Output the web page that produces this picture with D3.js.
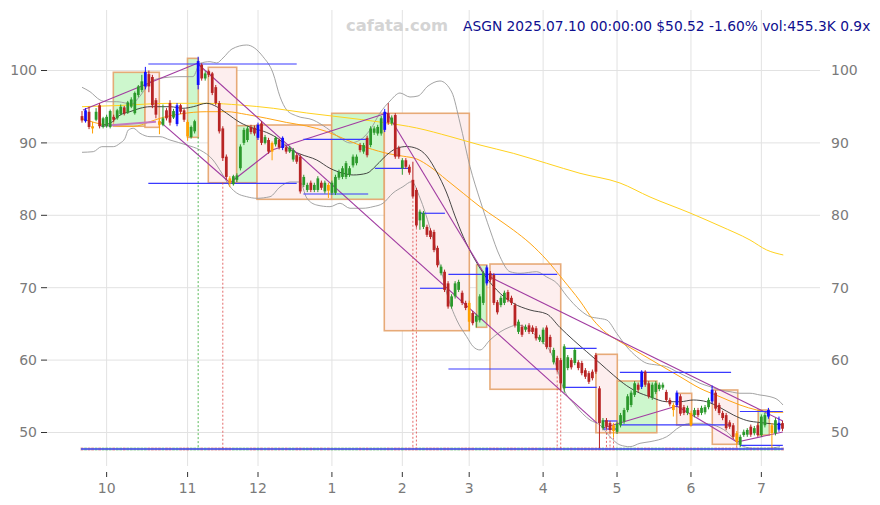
<!DOCTYPE html>
<html><head><meta charset="utf-8">
<script src="https://cdn.jsdelivr.net/npm/d3@7"></script>
<style>body{margin:0;background:#fff}svg{display:block}</style>
</head><body>
<svg id="c" width="880" height="505"></svg>
<script>
// ---------- DATA ----------
const ticker = "ASGN";
const lastStamp = "2025.07.10 00:00:00";
const lastPrice = 50.52;
const changePct = -1.60;
const lastVolume = "455.3K";
const volumeRatio = "0.9x";
const watermark = "cafata.com";

const firstDay = "2024-09-20", lastDay = "2025-07-10";
const holidays = ["2024-11-28","2024-12-25","2025-01-01","2025-01-09","2025-01-20","2025-02-17","2025-04-18","2025-05-26","2025-06-19","2025-07-04"];
const yTicks = [50,60,70,80,90,100];

const openP = [
93.7,93.0,94.3,92.3,93.2,95.2,92.2,92.3,92.2,93.6,
93.4,94.0,94.9,94.2,95.0,94.1,96.6,97.3,97.8,99.5,
99.1,95.9,93.0,92.5,94.5,95.5,93.5,92.6,95.2,94.5,
92.9,90.8,91.6,98.0,100.8,98.9,99.9,99.6,97.7,95.5,
92.0,88.1,85.1,84.3,84.9,86.5,90.0,90.4,92.2,92.1,
90.7,92.7,90.0,90.4,90.0,89.8,90.4,89.3,89.4,88.8,
87.7,88.3,88.1,84.2,83.5,84.5,83.5,83.5,84.5,83.3,
84.2,83.1,83.1,85.2,85.3,85.3,85.6,86.9,87.2,89.7,
88.8,90.7,89.7,91.4,91.3,91.3,91.8,94.1,92.7,93.85,
89.3,86.5,87.6,86.7,84.9,83.5,79.3,78.4,78.4,77.9,
77.7,75.5,72.0,72.2,70.6,67.4,68.8,69.7,69.3,67.9,
67.9,66.5,65.3,65.5,67.9,70.6,72.0,71.75,68.0,67.6,
67.9,69.4,68.6,67.6,63.9,64.6,64.2,64.8,64.5,64.4,
62.8,62.5,64.5,63.2,59.7,60.3,60.0,56.1,58.9,60.0,
59.6,59.7,59.6,58.6,58.2,58.4,60.7,56.1,50.6,51.7,
51.3,51.0,50.1,51.0,51.5,53.1,53.8,55.2,56.6,56.3,
58.4,56.8,54.8,55.6,56.0,56.2,55.6,54.5,53.8,53.8,
55.0,53.5,52.7,52.7,52.4,53.1,52.7,52.8,53.5,54.3,
55.5,53.8,52.7,52.4,51.4,51.0,49.9,48.3,49.65,49.7,
50.8,49.9,51.0,49.65,51.0,52.2,51.0,49.9,50.4,51.3];
const closeP = [
93.1,94.5,92.2,92.0,94.3,92.3,93.4,93.6,94.4,93.2,
94.5,95.0,94.1,95.6,96.0,96.9,97.8,98.5,99.8,97.8,
95.2,93.9,92.5,93.4,93.4,92.8,94.4,95.2,94.3,93.2,
90.9,92.2,93.0,101.3,98.9,99.6,99.4,96.9,95.5,91.6,
87.9,85.3,84.4,85.4,85.5,89.5,91.8,92.0,91.5,91.3,
92.5,90.0,90.8,88.8,88.8,90.7,89.4,90.7,88.8,89.3,
89.0,87.4,83.3,85.3,84.2,83.5,84.2,85.1,83.8,84.5,
83.4,84.5,85.3,86.0,86.5,87.2,86.5,88.1,88.1,89.0,
89.7,88.3,92.0,92.0,92.2,93.4,94.3,92.8,93.5,88.1,
88.1,87.6,86.7,85.9,82.6,78.6,80.5,80.3,77.3,77.0,
75.2,73.1,72.9,69.7,67.4,68.8,70.6,70.8,67.9,67.2,
65.3,65.1,66.1,68.8,72.0,72.8,71.1,67.9,66.6,68.6,
69.3,68.3,67.9,64.8,65.3,63.5,64.6,63.9,63.9,63.0,
63.2,64.2,61.8,61.8,61.4,58.6,56.8,61.9,60.4,59.0,
61.4,58.9,58.2,57.7,57.0,57.5,58.4,51.3,51.7,50.8,
50.35,50.2,51.2,52.4,53.1,55.0,55.5,56.8,55.9,58.4,
56.6,55.0,56.6,56.8,56.6,56.6,54.5,53.9,53.1,55.5,
52.6,52.7,53.4,51.0,53.1,52.4,53.4,53.5,54.5,55.9,
53.3,52.7,52.0,50.6,50.8,49.4,48.7,49.4,50.1,50.35,
49.7,50.6,49.65,52.2,52.4,53.1,49.9,51.7,51.34,50.52];
const highP = [
94.4,94.8,95.0,92.9,94.8,95.5,93.6,93.9,94.6,93.9,
94.7,95.3,95.1,95.8,96.3,97.1,98.0,99.4,100.5,100.0,
99.4,96.2,93.3,95.3,94.8,95.9,94.7,95.5,95.4,94.7,
93.2,92.4,93.2,101.9,101.0,99.9,100.1,99.8,98.0,95.8,
92.3,88.4,85.4,85.6,85.8,89.8,92.1,92.3,92.5,92.4,
92.8,93.0,91.1,90.7,90.2,90.9,90.6,90.9,89.6,89.6,
89.3,88.6,88.4,85.6,84.5,84.8,84.5,85.4,84.8,84.8,
84.5,84.8,85.6,86.3,86.8,87.5,86.8,88.4,88.4,90.0,
90.0,91.0,92.3,92.3,92.5,93.7,94.7,95.5,93.8,94.1,
89.6,87.9,87.9,87.0,87.4,83.8,80.8,80.6,78.7,78.2,
78.0,75.8,73.2,72.5,70.9,69.1,70.9,71.1,69.6,68.2,
68.2,66.8,66.4,69.1,72.3,73.1,72.3,72.0,68.3,68.9,
69.6,69.7,68.9,67.9,65.6,64.9,64.9,65.1,64.8,64.7,
63.5,64.5,64.8,63.5,61.7,60.6,60.3,62.2,60.7,60.3,
61.7,60.0,59.9,58.9,58.5,58.7,61.0,56.4,52.0,52.0,
51.6,51.3,51.5,52.7,53.4,55.3,55.8,57.1,56.9,58.6,
58.6,57.1,56.9,57.1,56.9,56.9,55.9,54.8,54.1,55.8,
55.3,53.8,53.7,53.0,53.4,53.4,53.7,53.8,54.8,56.5,
55.8,54.1,53.0,52.7,51.7,51.3,50.2,49.7,50.4,50.6,
51.1,50.9,51.3,52.5,52.7,53.4,51.3,52.0,52.2,51.6];
const lowP = [
92.8,92.8,91.9,91.3,93.0,92.0,92.0,92.1,92.0,92.9,
93.2,93.8,93.8,94.0,94.8,93.9,96.3,97.0,97.4,97.0,
94.8,93.4,91.2,92.3,93.1,92.4,93.3,92.3,94.0,92.9,
90.3,90.6,91.3,97.4,98.6,98.6,99.1,96.6,95.2,91.3,
87.5,84.9,83.9,84.1,84.6,86.2,89.7,90.1,91.2,91.0,
90.4,89.7,89.8,88.5,87.6,89.5,89.1,89.0,88.5,88.6,
87.4,87.1,83.0,83.9,83.2,83.2,83.2,83.2,83.5,83.0,
82.4,82.8,82.8,84.9,85.0,85.0,85.3,86.6,86.9,88.7,
88.5,88.0,89.4,91.1,91.0,91.0,91.5,92.5,92.4,87.8,
87.8,85.6,86.4,85.6,82.3,78.3,78.0,78.1,77.0,76.7,
74.9,72.8,71.7,69.4,67.1,67.1,68.5,69.4,67.6,66.9,
64.0,64.8,64.5,65.2,67.6,70.3,70.8,67.6,66.3,67.3,
67.6,68.0,67.6,64.5,63.6,63.2,63.9,63.6,63.6,62.7,
62.5,62.2,61.5,61.0,59.4,58.3,55.8,55.5,58.6,58.7,
59.3,58.6,57.9,57.4,56.7,57.2,58.1,47.7,50.3,50.5,
50.0,49.3,49.8,50.7,51.2,52.8,53.5,54.9,55.6,56.0,
56.3,54.7,54.5,55.3,55.7,55.9,54.2,53.6,52.2,53.5,
52.3,52.4,52.4,50.8,52.1,52.1,52.4,52.5,53.2,54.0,
53.0,52.4,51.7,50.3,50.5,49.1,48.2,48.0,49.4,49.4,
49.4,49.6,49.4,49.4,50.7,51.9,47.9,49.6,50.1,50.2];

const blueIdx = [1,18,27,33,50,57,86,115,159,169,179,195,198];
const orangeIdx = [3,22,30,42,54,70,110,151,168,173,186,196];

// moving averages & bands: [trading-day index, price]
const maShort = [[5.6,92.47],[7.95,92.71],[10.8,93.85],[13.64,94.31],[16.48,94.78],[19.32,95.0],[22.16,95.0],[25,95.0],[28.7,94.78],[31.62,95.0],[35.43,95.47],[38.27,95.0],[41.1,94.09],[44.89,92.82],[48.66,92.02],[52.47,91.44],[56.25,90.4],[59.09,89.12],[61.93,88.47],[66.68,87.64],[70.45,86.49],[74.23,85.8],[77.07,85.57],[80.88,85.8],[83.72,86.95],[86.56,88.33],[89.4,89.25],[92.24,89.5],[95.09,89.23],[97.93,88.19],[100.77,85.98],[103.61,83.08],[105.97,79.9],[108.32,77.04],[111.16,74.28],[114,71.99],[117.81,69.68],[122.53,67.85],[127.27,66.92],[132.02,66.37],[135.8,64.5],[139.57,62.78],[143.38,61.16],[147.16,59.56],[150.94,57.94],[153.78,56.8],[157.59,55.64],[161.36,54.94],[166.11,54.25],[169.89,54.25],[173.67,54.49],[177.47,54.25],[181.25,53.45],[185.03,52.42],[188.84,51.66],[192.61,51.38],[196.39,51.17],[199.23,51.04]];
const maMid = [[0.28,93.3],[7.02,92.47],[14.57,92.27],[19.32,92.93],[22.16,93.4],[27.84,93.99],[35.43,94.31],[41.11,94.31],[46.79,93.92],[52.47,93.4],[58.15,92.82],[63.84,92.33],[69.52,91.57],[75.2,90.4],[80.88,89.36],[87.5,88.47],[91.28,88.16],[95.09,87.78],[98.86,86.71],[103.61,84.88],[108.32,83.04],[113.07,81.19],[117.81,79.59],[122.53,77.97],[127.27,76.13],[132.02,73.83],[136.73,71.06],[141.48,68.16],[145.26,65.54],[149.06,63.7],[152.84,62.54],[158.52,60.94],[164.2,59.32],[169.89,57.71],[175.57,56.1],[181.25,54.94],[186.93,53.8],[191.68,53.11],[196.39,52.79],[199.23,52.79]];
const maLong = [[0,95.0],[10.8,95.17],[25,95.47],[35.43,95.47],[44.89,95.23],[54.35,94.78],[63.84,94.13],[73.3,93.58],[85.6,92.82],[95.09,92.06],[104.55,90.88],[113.07,89.71],[122.53,88.56],[132.02,87.18],[141.48,85.8],[152.84,84.46],[161.36,82.53],[172.73,80.32],[181.25,78.52],[189.77,76.59],[194.52,75.21],[199.23,74.52]];
const bandUpper = [[0,97.68],[2.27,97.07],[5.11,95.93],[7.02,95.69],[9.86,95.69],[12.7,95.47],[14.12,95.33],[15.54,95.93],[17.41,97.07],[19.32,98.41],[22.16,98.92],[27.84,99.15],[31.53,99.15],[33.52,100.99],[36.36,101.22],[38.27,101.04],[40.06,101.73],[42.61,102.97],[46.79,103.52],[51.42,101.91],[54.26,99.66],[56.25,96.38],[58.15,94.55],[61,93.72],[65.63,93.17],[69.52,92.06],[73.3,90.68],[76.14,89.99],[78.98,90.4],[81.82,91.78],[84.66,94.13],[87.5,95.79],[90.34,96.89],[93.18,96.34],[95.45,96.48],[98.3,97.86],[101.7,98.55],[105.03,97.03],[107.39,92.75],[110.23,86.72],[113.07,82.12],[115.91,77.97],[118.75,74.28],[121.59,72.21],[124.43,71.99],[129.17,72.21],[132.02,71.48],[134.86,70.65],[137.7,68.86],[141.48,66.92],[144.32,66.0],[146.68,65.78],[149.06,65.54],[151.9,63.7],[154.74,61.85],[157.59,60.47],[160.43,59.56],[163.27,59.33],[166.11,59.09],[168.95,58.4],[172.73,57.49],[175.57,56.8],[178.41,56.33],[181.25,55.87],[184.09,55.64],[186.93,55.42],[189.77,55.42],[192.61,55.18],[195.45,54.95],[197.73,54.49],[199.15,53.8]];
const bandLower = [[0,88.7],[3.21,88.79],[5.6,89.48],[8.89,89.48],[10.8,89.95],[12.22,90.64],[13.15,91.78],[14.57,92.02],[16.48,91.33],[19.32,90.86],[22.16,90.86],[25,90.4],[29.74,89.71],[33.52,89.02],[37.22,87.64],[39.69,85.84],[42.05,83.95],[43.95,83.08],[46.79,82.57],[49.63,82.35],[53.41,82.57],[56.25,83.91],[59.09,84.6],[61.93,84.6],[63.84,82.39],[66.68,81.42],[70.45,81.19],[73.3,81.66],[76.14,80.97],[79.83,80.97],[82.67,81.19],[85.51,81.66],[88.35,83.08],[91.19,83.95],[93.66,84.64],[96.02,82.39],[98.86,78.25],[101.7,73.14],[103.61,69.27],[106.45,65.54],[109.29,63.24],[111.16,61.85],[113.07,61.4],[115.91,62.78],[118.75,63.88],[121.59,64.58],[123.58,64.85],[126.42,64.44],[130.11,62.78],[132.95,61.26],[134.66,59.33],[136.73,56.15],[140.06,53.8],[144.32,51.73],[147.16,51.04],[150,49.42],[152.84,48.28],[155.68,48.04],[158.52,48.51],[161.36,48.73],[166.11,49.42],[169.89,50.8],[172.73,51.27],[176.51,51.27],[179.35,51.04],[183.16,50.11],[186.93,48.28],[190.72,47.82],[194.52,47.82],[198.3,48.04]];

// consolidation boxes: [fromIdx, toIdx, low, high, kind]
const boxes = [
 [8.9,17.9,92.3,99.75,"up"],[17.9,21.96,92.15,99.75,"down"],[29.97,33.04,90.77,101.68,"up"],
 [35.88,43.95,84.5,100.44,"down"],[43.95,49.8,84.5,92.38,"up"],[49.72,70.94,82.21,92.47,"down"],
 [70.94,85.88,82.21,94.09,"up"],[85.88,110.03,64.06,94.09,"down"],[112.1,114.97,64.53,73.14,"up"],
 [115.9,136.0,55.97,73.27,"down"],[146.0,152.07,49.97,60.8,"down"],[152.07,163.3,49.97,57.11,"up"],
 [168.95,173.2,51.04,55.41,"down"],[179.06,186.3,48.37,55.87,"down"],[192.1,195.26,49.65,53.11,"up"]];
// trend lines: [idx0, price0, idx1, price1]
const trendLines = [
 [0.28,94.54,32.95,101.04],[22.16,92.93,42.05,84.5],[32.95,100.9,146.3,51.3],
 [42.05,84.5,53.98,89.02],[53.98,89.02,86.65,94.13],[86.65,94.13,114.5,71.75],
 [115.9,71.48,199.1,51.59],[148.0,50.62,169.0,53.66],[169.0,53.66,186.1,48.69],[186.1,48.69,199.1,50.07]];
const baseLine = [[5.4,92.33],[21.0,92.93]];
// horizontal levels: [idx0, idx1, price]
const levels = [
 [18.84,61.0,100.9],[18.84,61.0,84.42],[62.9,81.3,90.5],[62.9,81.3,82.94],[83.2,93.2,86.49],
 [96.0,103.1,80.28],[96.0,103.1,69.92],[104.1,135.0,71.85],[104.1,135.3,58.77],
 [136.7,146.2,61.63],[136.7,146.2,56.24],[148.1,152.1,51.59],[148.1,152.1,50.48],
 [152.8,184.4,58.31],[152.8,184.4,51.04],[186.9,199.1,52.9],[186.9,199.1,48.23]];
// signal markers: [idx, top price, kind]
const signals = [[33,90.8,"buy"],[40,84.5,"sell"],[94,82.0,"sell"],[95,78.3,"sell"],[135,58.3,"sell"],[136,55.8,"sell"],[149,50.5,"sell"],[150,50.0,"sell"],[151,49.3,"sell"],[186,48.2,"sell"]];

// ---------- CHART ----------
const svg = d3.select("#c");
const FONT = "DejaVu Sans, sans-serif";
const x = d3.scaleLinear().domain([-10,210]).range([46.8,821.2]);
const y = d3.scaleLinear().domain([50,100]).range([432.5,70.5]);
const plot = {l:47, r:820, t:10, b:466};

const parse = d3.timeParse("%Y-%m-%d"), fmt = d3.timeFormat("%Y-%m-%d");
const dates = d3.timeDay.range(parse(firstDay), d3.timeDay.offset(parse(lastDay),1))
  .filter(d => d.getDay()%6!==0 && !holidays.includes(fmt(d)));
const monthTicks = dates.map((d,i)=>({d,i})).filter(o => o.i>0 && o.d.getMonth()!==dates[o.i-1].getMonth());

const n = closeP.length;
const data = d3.range(n).map(i => ({i, o:openP[i], h:highP[i], l:lowP[i], c:closeP[i]}));
const colorOf = d => blueIdx.includes(d.i) ? "#1010ff" : orangeIdx.includes(d.i) ? "#ffa000" : (d.c>=d.o ? "#2b992b" : "#b82424");

// grid
const g = svg.append("g");
g.selectAll(".hg").data(yTicks).join("line")
  .attr("x1",plot.l).attr("x2",plot.r).attr("y1",d=>y(d)).attr("y2",d=>y(d))
  .attr("stroke","#e2e2e2").attr("stroke-width",1);
g.selectAll(".vg").data(monthTicks).join("line")
  .attr("x1",d=>x(d.i)).attr("x2",d=>x(d.i)).attr("y1",plot.t).attr("y2",plot.b)
  .attr("stroke","#e2e2e2").attr("stroke-width",1);

// axes text
g.selectAll(".lt").data(yTicks).join("line")
  .attr("x1",41).attr("x2",47).attr("y1",d=>y(d)).attr("y2",d=>y(d)).attr("stroke","#333");
g.selectAll(".ll").data(yTicks).join("text")
  .attr("x",37).attr("y",d=>y(d)).attr("dy","0.35em").attr("text-anchor","end")
  .attr("font-family",FONT).attr("font-size",14).attr("fill","#7a7a7a").text(d=>d);
g.selectAll(".rl").data(yTicks).join("text")
  .attr("x",831).attr("y",d=>y(d)).attr("dy","0.35em").attr("text-anchor","start")
  .attr("font-family",FONT).attr("font-size",14).attr("fill","#7a7a7a").text(d=>d);
g.selectAll(".bt").data(monthTicks).join("line")
  .attr("x1",d=>x(d.i)).attr("x2",d=>x(d.i)).attr("y1",472).attr("y2",477).attr("stroke","#333");
g.selectAll(".bl").data(monthTicks).join("text")
  .attr("x",d=>x(d.i)).attr("y",493).attr("text-anchor","middle")
  .attr("font-family",FONT).attr("font-size",14).attr("fill","#7a7a7a")
  .text(d=>d.d.getMonth()+1);

// boxes
svg.append("g").selectAll("rect").data(boxes).join("rect")
  .attr("x",d=>x(d[0])).attr("width",d=>x(d[1])-x(d[0]))
  .attr("y",d=>y(d[3])).attr("height",d=>y(d[2])-y(d[3]))
  .attr("fill",d=>d[4]==="up"?"#cdf7cd":"#fdeeee")
  .attr("stroke","#e4a26a").attr("stroke-width",1.6).attr("stroke-opacity",0.9);

// lines
const line = d3.line().x(d=>x(d[0])).y(d=>y(d[1])).curve(d3.curveMonotoneX);
const lg = svg.append("g").attr("fill","none");
lg.append("path").attr("d",line(bandUpper)).attr("stroke","#999").attr("stroke-width",0.9);
lg.append("path").attr("d",line(bandLower)).attr("stroke","#999").attr("stroke-width",0.9);
lg.append("path").attr("d",line(maLong)).attr("stroke","#ffd21f").attr("stroke-width",1);
lg.append("path").attr("d",line(maMid)).attr("stroke","#ffa514").attr("stroke-width",1);
lg.append("path").attr("d",line(maShort)).attr("stroke","#333").attr("stroke-width",0.9);

// trend lines
const tg = svg.append("g");
tg.selectAll("line").data(trendLines).join("line")
  .attr("x1",d=>x(d[0])).attr("y1",d=>y(d[1])).attr("x2",d=>x(d[2])).attr("y2",d=>y(d[3]))
  .attr("stroke","#a13ca1").attr("stroke-width",1.1);
tg.append("line").attr("x1",x(baseLine[0][0])).attr("y1",y(baseLine[0][1]))
  .attr("x2",x(baseLine[1][0])).attr("y2",y(baseLine[1][1]))
  .attr("stroke","#c27ac2").attr("stroke-width",2);

// levels
svg.append("g").selectAll("line").data(levels).join("line")
  .attr("x1",d=>x(d[0])).attr("x2",d=>x(d[1])).attr("y1",d=>y(d[2])).attr("y2",d=>y(d[2]))
  .attr("stroke","#3a3aff").attr("stroke-width",1.2);

// volume strip base
const volBase = 47.72;
// signals
svg.append("g").selectAll("line").data(signals).join("line")
  .attr("x1",d=>x(d[0])).attr("x2",d=>x(d[0])).attr("y1",d=>y(d[1])).attr("y2",y(volBase))
  .attr("stroke",d=>d[2]==="buy"?"#2fa82f":"#dd4444").attr("stroke-width",0.8)
  .attr("stroke-dasharray","2,2");

// candles
const cg = svg.append("g");
cg.selectAll(".wick").data(data).join("line")
  .attr("x1",d=>x(d.i)).attr("x2",d=>x(d.i)).attr("y1",d=>y(d.h)).attr("y2",d=>y(d.l))
  .attr("stroke",colorOf).attr("stroke-width",1);
const bw = (x(1)-x(0))*0.78;
cg.selectAll(".body").data(data).join("rect")
  .attr("x",d=>x(d.i)-bw/2).attr("width",bw)
  .attr("y",d=>y(Math.max(d.o,d.c)))
  .attr("height",d=>Math.max(1,Math.abs(y(d.o)-y(d.c))))
  .attr("fill",colorOf);

// volume strip
const vg = svg.append("g");
vg.selectAll("rect").data(data).join("rect")
  .attr("x",d=>x(d.i)-bw/2).attr("width",bw)
  .attr("y",y(volBase)-1.5).attr("height",3)
  .attr("fill",d=>d.c>=d.o?"#2b992b":"#b82424").attr("opacity",0.45);
vg.append("line").attr("x1",x(-0.3)).attr("x2",x(n-0.7)).attr("y1",y(volBase)).attr("y2",y(volBase))
  .attr("stroke","#4a55e8").attr("stroke-width",2).attr("opacity",0.85);

// header
svg.append("text").attr("x",346).attr("y",31).attr("font-family",FONT).attr("font-weight","bold")
  .attr("font-size",16.4).attr("fill","#d4d4d4").text(watermark);
const sign = changePct>0?"+":"";
svg.append("text").attr("x",463).attr("y",31).attr("font-family",FONT).attr("font-size",13.8)
  .attr("fill","#0f0f8f")
  .text(`${ticker} ${lastStamp} $${lastPrice.toFixed(2)} ${sign}${changePct.toFixed(2)}% vol:${lastVolume} ${volumeRatio}`);
</script>
</body></html>
